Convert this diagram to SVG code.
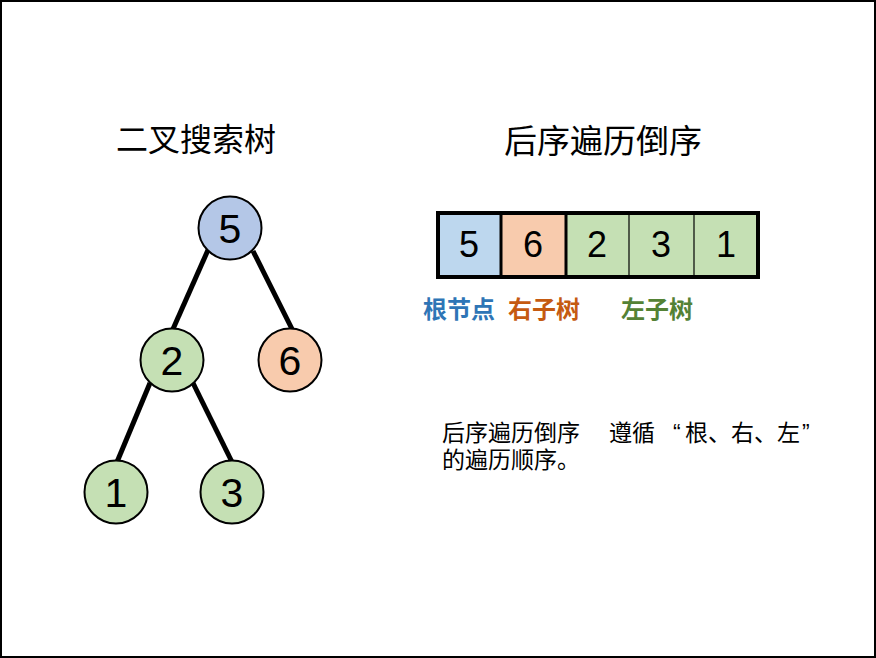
<svg xmlns="http://www.w3.org/2000/svg" width="876" height="658" viewBox="0 0 876 658">
<style>
.node circle{stroke:#000;stroke-width:2}
.num{font-family:"Liberation Sans","Noto Sans",sans-serif;font-size:41px;text-anchor:middle;fill:#000}
.anum{font-family:"Liberation Sans","Noto Sans",sans-serif;font-size:36px;text-anchor:middle;fill:#000}
.title{font-family:"Noto Sans CJK SC",sans-serif;text-anchor:middle;fill:#000}
.lbl{font-family:"Noto Sans CJK SC",sans-serif;font-size:24px;font-weight:bold}
.txt{font-family:"Noto Sans CJK SC",sans-serif;font-size:23px;fill:#000}
.q{font-family:"Liberation Sans",sans-serif}
.edge{stroke:#000;stroke-width:5;stroke-linecap:butt}
</style>
<rect x="1" y="1" width="874" height="656" fill="#fff" stroke="#000" stroke-width="2"/>
<text class="title" x="196" y="151" font-size="32">二叉搜索树</text>
<text class="title" x="603" y="153" font-size="33">后序遍历倒序</text>
<g id="edges">
<line class="edge" x1="208" y1="250" x2="173" y2="329"/>
<line class="edge" x1="253" y1="251" x2="292" y2="329"/>
<line class="edge" x1="150" y1="383" x2="117" y2="462"/>
<line class="edge" x1="193" y1="383" x2="232" y2="462"/>
</g>
<g id="node5" class="node"><circle cx="230" cy="228" r="31.5" fill="#b4c7e7"/><text class="num" x="230" y="243">5</text></g>
<g id="node2" class="node"><circle cx="172" cy="360" r="31.5" fill="#c5e0b4"/><text class="num" x="172" y="375">2</text></g>
<g id="node6" class="node"><circle cx="290" cy="360" r="31.5" fill="#f8cbad"/><text class="num" x="290" y="375">6</text></g>
<g id="node1" class="node"><circle cx="116" cy="492" r="31.5" fill="#c5e0b4"/><text class="num" x="116" y="507">1</text></g>
<g id="node3" class="node"><circle cx="232" cy="492" r="31.5" fill="#c5e0b4"/><text class="num" x="232" y="507">3</text></g>
<g id="array">
<rect x="437" y="212" width="64" height="65" fill="#bdd7ee"/>
<rect x="501" y="212" width="65" height="65" fill="#f8cbad"/>
<rect x="566" y="212" width="193" height="65" fill="#c5e0b4"/>
<line x1="629" y1="212" x2="629" y2="277" stroke="#000" stroke-width="1.2"/>
<line x1="694" y1="212" x2="694" y2="277" stroke="#000" stroke-width="1.2"/>
<line x1="501" y1="212" x2="501" y2="277" stroke="#000" stroke-width="3"/>
<line x1="566" y1="212" x2="566" y2="277" stroke="#000" stroke-width="3"/>
<rect x="438" y="213" width="320" height="64" fill="none" stroke="#000" stroke-width="4"/>
<text class="anum" x="469" y="257">5</text>
<text class="anum" x="533" y="257">6</text>
<text class="anum" x="597" y="257">2</text>
<text class="anum" x="661" y="257">3</text>
<text class="anum" x="726" y="257">1</text>
</g>
<text class="lbl" x="423" y="318" fill="#2e75b6">根节点</text>
<text class="lbl" x="508" y="318" fill="#c55a11">右子树</text>
<text class="lbl" x="621" y="318" fill="#548235">左子树</text>
<text class="txt"><tspan x="442" y="441">后序遍历倒序</tspan><tspan x="609" y="441">遵循</tspan><tspan class="q" x="673" y="441">“</tspan><tspan x="685" y="441">根、右、左</tspan><tspan class="q" x="802" y="441">”</tspan><tspan x="442" y="468">的遍历顺序。</tspan></text>
</svg>
